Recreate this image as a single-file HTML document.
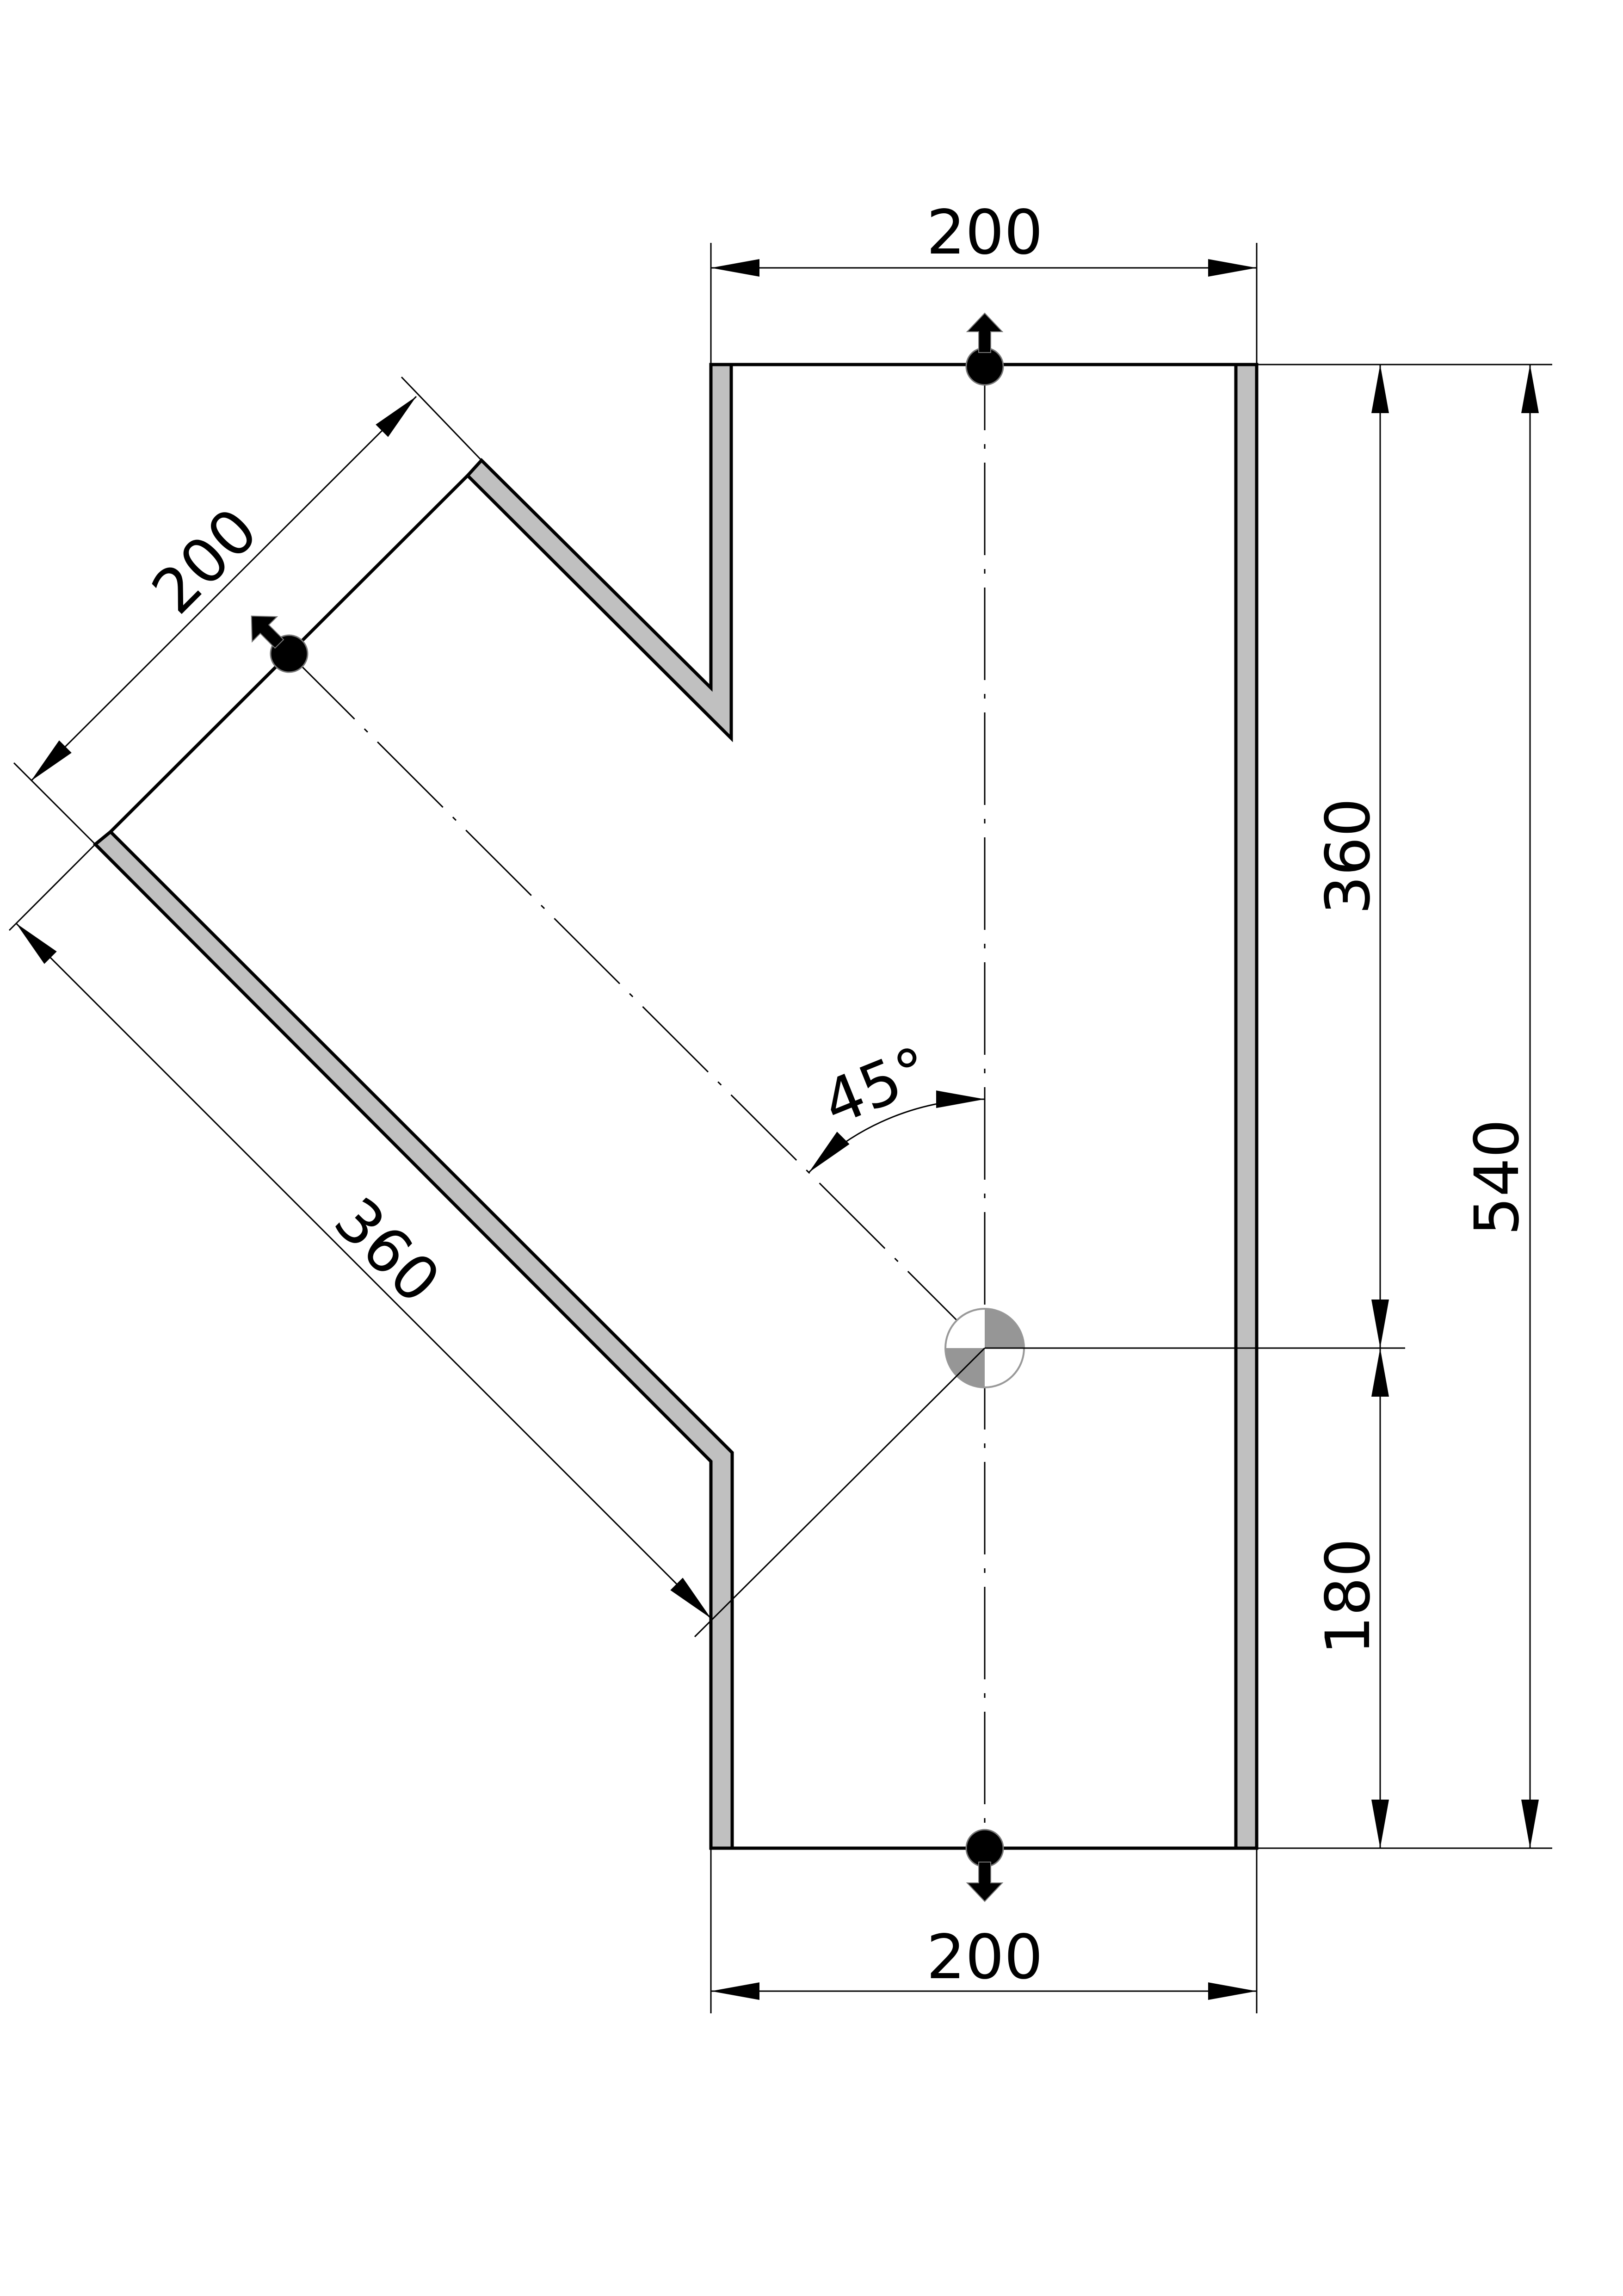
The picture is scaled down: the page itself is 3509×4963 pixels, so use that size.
<!DOCTYPE html>
<html><head><meta charset="utf-8"><style>html,body{margin:0;padding:0;background:#fff}svg{display:block}</style></head>
<body>
<svg width="3509" height="4963" viewBox="0 0 3509 4963" xmlns="http://www.w3.org/2000/svg">
<defs>
<marker id="a" markerUnits="userSpaceOnUse" markerWidth="120" markerHeight="60" viewBox="-110 -30 120 60" refX="0" refY="0" orient="auto-start-reverse">
<path d="M0,0 L-105,-19 L-105,19 Z" fill="#000"/>
</marker>
<g id="node">
<circle cx="0" cy="0" r="40" fill="#000" stroke="#777" stroke-width="3"/>
<path d="M-13,-30 L-13,-75 L-38,-75 L0,-115 L38,-75 L13,-75 L13,-30 Z" fill="#000" stroke="#777" stroke-width="2"/>
</g>
</defs>
<rect width="3509" height="4963" fill="#fff"/>

<g stroke="#000" stroke-width="3" fill="none" stroke-dasharray="200,30,10,30">
<line x1="2129" y1="730" x2="2129" y2="4050"/>
<line x1="625" y1="1413" x2="2129" y2="2914"/>
</g>

<g stroke="#000" stroke-width="7" stroke-linejoin="miter" fill="#c0c0c0">
<polygon points="1041,995 1537,1487 1537,788 1581,788 1581,1596 1011,1028"/>
<polygon points="239,1798 1583,3140 1583,3995 1537,3995 1537,3159 206,1825"/>
<rect x="2672" y="788" width="45" height="3207"/>
<line x1="1537" y1="788" x2="2717" y2="788"/>
<line x1="1537" y1="3995" x2="2717" y2="3995"/>
<line x1="1011" y1="1028" x2="239" y2="1798"/>
</g>

<circle cx="2129" cy="2914" r="85" fill="#fff" stroke="#999" stroke-width="4"/>
<path d="M2129,2914 L2129,2829 A85,85 0 0 1 2214,2914 Z" fill="#969696"/>
<path d="M2129,2914 L2044,2914 A85,85 0 0 0 2129,2999 Z" fill="#969696"/>

<g stroke="#000" stroke-width="3" fill="none">
<line x1="1537" y1="525" x2="1537" y2="788"/>
<line x1="2717" y1="525" x2="2717" y2="788"/>
<line x1="1537" y1="579" x2="2717" y2="579" marker-start="url(#a)" marker-end="url(#a)"/>
<line x1="1537" y1="3995" x2="1537" y2="4352"/>
<line x1="2717" y1="3995" x2="2717" y2="4352"/>
<line x1="1537" y1="4304" x2="2717" y2="4304" marker-start="url(#a)" marker-end="url(#a)"/>
<line x1="2717" y1="788" x2="3356" y2="788"/>
<line x1="2129" y1="2914" x2="3038" y2="2914"/>
<line x1="2717" y1="3995" x2="3356" y2="3995"/>
<line x1="2984" y1="788" x2="2984" y2="2914" marker-start="url(#a)" marker-end="url(#a)"/>
<line x1="2984" y1="2914" x2="2984" y2="3995" marker-start="url(#a)" marker-end="url(#a)"/>
<line x1="3308" y1="788" x2="3308" y2="3995" marker-start="url(#a)" marker-end="url(#a)"/>
<line x1="1041" y1="995" x2="868" y2="815"/>
<line x1="206" y1="1825" x2="30" y2="1649"/>
<line x1="900" y1="857" x2="67" y2="1688" marker-start="url(#a)" marker-end="url(#a)"/>
<line x1="206" y1="1825" x2="20" y2="2011"/>
<line x1="2129" y1="2914" x2="1502" y2="3538"/>
<line x1="35" y1="1996" x2="1537" y2="3498" marker-start="url(#a)" marker-end="url(#a)"/>
<path d="M2129,2376 A538,538 0 0 0 1749,2534" marker-start="url(#a)" marker-end="url(#a)"/>
</g>

<use href="#node" transform="translate(2129,792)"/>
<use href="#node" transform="translate(2129,3995) rotate(180)"/>
<use href="#node" transform="translate(625,1413) rotate(-45)"/>

<g font-family="DejaVu Sans, Liberation Sans, sans-serif" font-size="132" fill="#000" text-anchor="middle">
<text x="2129" y="548">200</text>
<text x="2129" y="4276">200</text>
<text transform="translate(2960,1851) rotate(-90)">360</text>
<text transform="translate(2960,3451) rotate(-90)">180</text>
<text transform="translate(3282,2545) rotate(-90)">540</text>
<text transform="translate(475,1245) rotate(-45)">200</text>
<text transform="translate(805,2735) rotate(45)">360</text>
<text transform="translate(1912,2390) rotate(-22)">45°</text>
</g>
</svg>
</body></html>
